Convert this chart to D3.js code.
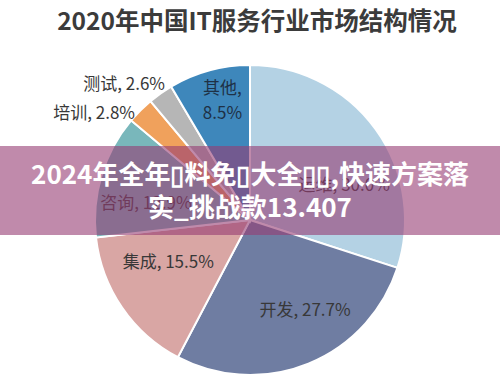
<!DOCTYPE html>
<html lang="zh">
<head>
<meta charset="UTF-8">
<title>2020年中国IT服务行业市场结构情况</title>
<script src="https://cdn.jsdelivr.net/npm/d3@7"></script>
<style>
  html, body { margin: 0; padding: 0; background: #fff; }
  svg { display: block; font-family: "Noto Sans CJK SC", "Noto Sans", sans-serif; }
</style>
</head>
<body>
<svg id="chart" width="500" height="382"></svg>
<script>
// 数据：从顺时针 12 点开始
const categories = ['运维', '开发', '集成', '咨询', '培训', '测试', '其他'];
const shares     = [30.0, 27.7, 15.5, 12.9, 2.8, 2.6, 8.5];
const colors     = ['#b4d2e4', '#6f7da2', '#d9a6a4', '#79b7bb', '#f0a15c', '#b6b6b6', '#3e87bb'];
const titleText  = '2020年中国IT服务行业市场结构情况';
const bannerLines = ['2024年全年▯料免▯大全▯▯,快速方案落', '实_挑战款13.407'];

const W = 500, H = 382;
const cx = 250, cy = 220, r = 155;
const svg = d3.select('#chart');

// 标题
svg.append('text')
  .attr('x', 257).attr('y', 30)
  .attr('text-anchor', 'middle')
  .attr('font-size', 24.5).attr('font-weight', 700)
  .attr('fill', '#3b3b3b')
  .text(titleText);

const data = categories.map((c, i) => ({ name: c, value: shares[i], color: colors[i] }));
const pie = d3.pie().value(d => d.value).sort(null);
const arc = d3.arc().innerRadius(0).outerRadius(r);
const labelArc = d3.arc().innerRadius(r * 0.6).outerRadius(r * 0.6);

const g = svg.append('g').attr('transform', `translate(${cx},${cy})`);
const arcs = pie(data);

g.selectAll('path')
  .data(arcs)
  .join('path')
  .attr('d', arc)
  .attr('fill', d => d.data.color)
  .attr('stroke', '#fff')
  .attr('stroke-width', 2);

/* 标签位置微调（相对于 0.6r 处的质心），外部标签单独处理 */
const labelTweak = {
  '运维': { dx: 19, dy: 20 },
  '开发': { dx: 20, dy: 4 },
  '集成': { dx: -5, dy: -10 },
  '咨询': { dx: -15, dy: 10 },
  '其他': { dx: -3, dy: -30, wrap: true },
  '培训': { abs: [135, 113], anchor: 'end' },
  '测试': { abs: [165, 84], anchor: 'end' }
};

arcs.forEach(a => {
  const t = labelTweak[a.data.name];
  const label = `${a.data.name}, ${a.data.value.toFixed(1)}%`;
  let x, y;
  if (t.abs) {
    x = t.abs[0] - cx; y = t.abs[1] - cy;
  } else {
    const c = labelArc.centroid(a);
    x = c[0] + t.dx; y = c[1] + t.dy;
  }
  const txt = g.append('text')
    .attr('text-anchor', t.anchor || 'middle')
    .attr('font-size', 17)
    .attr('fill', a.data.name === '其他' ? '#1e3146' : '#383838');
  if (t.wrap) {
    txt.append('tspan').attr('x', x).attr('y', y - 12).attr('dy', '0.35em').text(`${a.data.name},`);
    txt.append('tspan').attr('x', x).attr('y', y + 13).attr('dy', '0.35em').text(`${a.data.value.toFixed(1)}%`);
  } else {
    txt.attr('x', x).attr('y', y).attr('dy', '0.35em').text(label);
  }
});

// 半透明横幅
svg.append('rect')
  .attr('x', 0).attr('y', 146)
  .attr('width', W).attr('height', 89)
  .attr('fill', 'rgb(150,60,115)')
  .attr('fill-opacity', 0.6);

svg.selectAll('text.banner')
  .data(bannerLines)
  .join('text')
  .attr('class', 'banner')
  .attr('x', W / 2)
  .attr('y', (d, i) => 184 + i * 33)
  .attr('text-anchor', 'middle')
  .attr('font-size', 26)
  .attr('font-weight', 700)
  .attr('fill', '#fff')
  .text(d => d);
</script>
</body>
</html>
